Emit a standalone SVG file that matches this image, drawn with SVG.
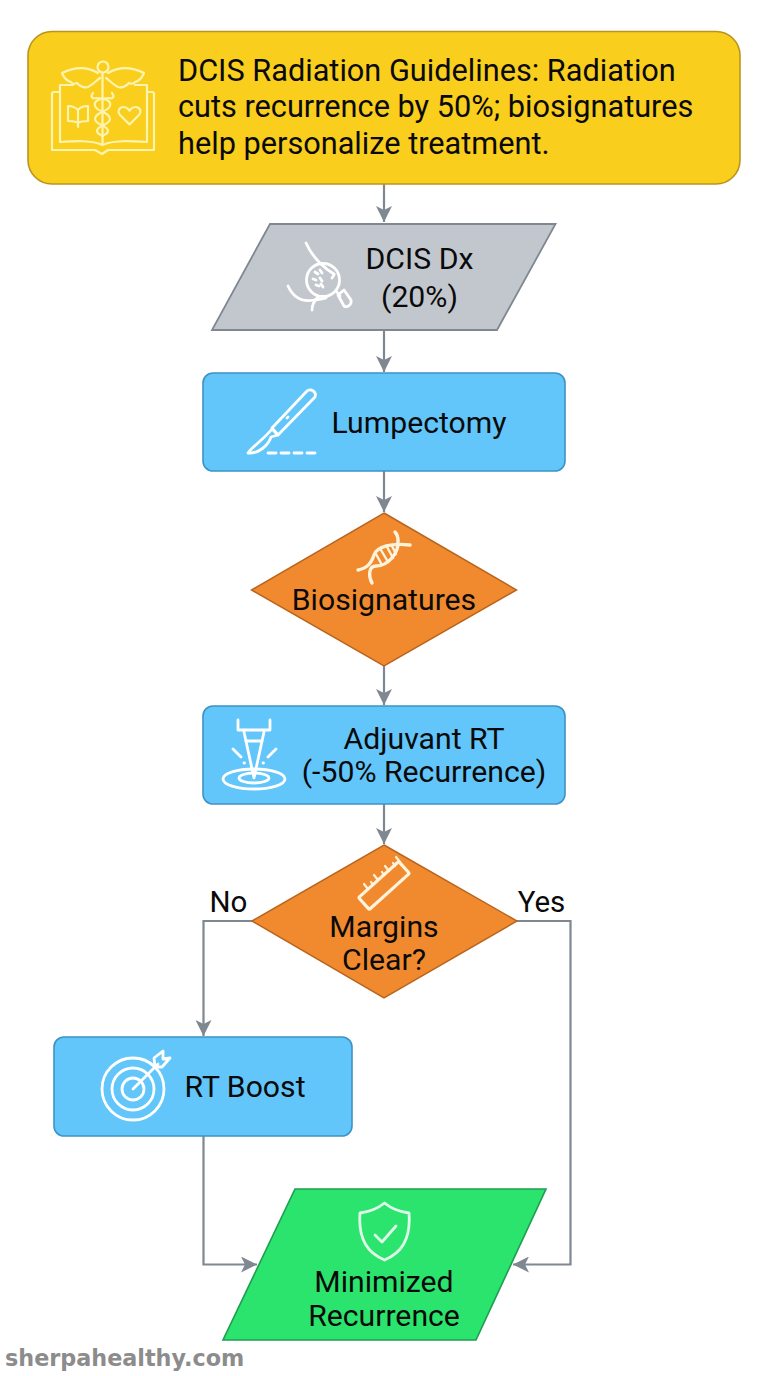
<svg xmlns="http://www.w3.org/2000/svg" width="768" height="1376" viewBox="0 0 768 1376">
<defs>
<marker id="arr" markerUnits="userSpaceOnUse" markerWidth="18" markerHeight="16" refX="16" refY="8" orient="auto"><path d="M0 0 L16 8 L0 16 L4 8 Z" fill="#7f8791"/></marker>
</defs>
<style>
text{font-family:Roboto,"Liberation Sans",sans-serif;fill:#0a0a0a;text-anchor:middle}
.t{font-size:30.700px}
.m{font-size:30.200px}
.conn path{fill:none;stroke:#7f8791;stroke-width:2.2;marker-end:url(#arr)}
.ic *{fill:none;stroke:#fff;stroke-width:2.800;stroke-linecap:round;stroke-linejoin:round}
.soft *{stroke:#fff3b0;stroke-width:2.200}
.blue{fill:#62c6fb;stroke:#3d93c4;stroke-width:1.6}
.org{fill:#f18a2e;stroke:#b8651f;stroke-width:1.5}
.lab{font-size:29.500px}
</style>
<rect width="768" height="1376" fill="#fff"/>
<g id="connectors" class="conn">
<path d="M384 184V222"/>
<path d="M384 330V372"/>
<path d="M384 471V512"/>
<path d="M384 666V705"/>
<path d="M384 804V844"/>
<path d="M252 921H203.500V1036"/>
<path d="M517 921H570.500V1264.500H513"/>
<path d="M203.500 1136V1264.500H257"/>
</g>
<g id="n1">
<rect x="28" y="31.500" width="712" height="152.500" rx="24" fill="#f9ce1d" stroke="#b8961e" stroke-width="1.6"/>
<g class="ic soft">
<path d="M58.500 92H54Q52 92 52 94V150H95L102 154L108 150H154V94Q154 92 152 92H147"/>
<path d="M73 85H60V142C76 141 92 140 102.500 145C113 140 130 141 147 142V85H135"/>
<path d="M102.500 73V145"/>
<circle cx="103" cy="67" r="5.500"/>
<path d="M98 73C88 67 76 66 62 73C64 78 67 81 71 82C72 84 75 84 77 83C80 87 85 88 88 87C92 85 96 81 100 78"/>
<path d="M108 73C118 67 130 66 144 73C142 78 139 81 135 82C134 84 131 84 129 83C126 87 121 88 118 87C114 85 110 81 106 78"/>
<path d="M93 93C90 97 92 99 96 98C103 98 112 100 110 106C108 112 95 112 95 119C95 125 108 125 108 131C108 134 104 135 102 136"/>
<path d="M112 93C115 97 113 99 109 98C102 98 93 100 95 106C97 112 110 112 110 119C110 125 97 125 97 131C97 134 101 135 103 136"/>
<path d="M78 110C74 106 71 106 68 106V121C71 121 75 121 78 123C81 121 85 121 88 121V106C85 106 81 106 78 110ZM78 110V127"/>
<path d="M129.500 124.500L120 115C115 109 124 103 129.500 110.500C135 103 144 109 139 115Z"/>
</g>
<text class="t" x="178" y="81" style="text-anchor:start">DCIS Radiation Guidelines: Radiation</text>
<text class="t" x="178" y="117" style="text-anchor:start">cuts recurrence by 50%; biosignatures</text>
<text class="t" x="178" y="154" style="text-anchor:start">help personalize treatment.</text>
</g>
<g id="n2">
<polygon points="270,224 555.500,224 497,330 212,330" fill="#c2c7cd" stroke="#7f8791" stroke-width="1.8"/>
<g class="ic">
<path d="M306 243C313 258 324 268 334 274"/>
<path d="M288 286C294 299 304 302 314 300C318 300 322 299 326 298"/>
<path d="M312 310C312 304 314 301 318 297"/>
<circle cx="323" cy="280" r="16.500"/>
<path d="M336 291L340 296"/>
<path d="M338 295L344 290L351 300C352 305 347 308 344 306Z"/>
<path d="M315 272l3 2M320 270l2 3M313 279l3 1M320 278l2 3M316 285l3 1M321 284l2 3M332 278l2-3"/>
</g>
<text class="m" x="419.500" y="269">DCIS Dx</text>
<text class="m" x="419.500" y="307">(20%)</text>
</g>
<g id="n3">
<rect x="203" y="373" width="362" height="98" rx="10" class="blue"/>
<g class="ic">
<path d="M272 428L307 391C311 388 317 392 315 397L278 435Z"/>
<path d="M272 429L278 435L271 437C268 446 258 454 248 453C253 446 264 439 272 429Z"/>
<path d="M287 418l1-1"/>
<path d="M268 453H316" stroke-dasharray="8 5"/>
</g>
<text class="m" x="419" y="433">Lumpectomy</text>
</g>
<g id="n4">
<polygon points="384,513 516.500,590 384,666 251.500,590" class="org"/>
<g class="ic">
<path d="M358 570C367 568 371 564 374 555C377 546 392 543 410 545" style="stroke:#fff3dc;stroke-width:3.400px"/>
<path d="M372 583C368 575 369 566 376 566C388 566 399 553 398 541C398 537 397 534 395 532" style="stroke:#fff3dc;stroke-width:3.400px"/>
<path d="M376 554l6 11M381 550l7 12M387 547l6 11M392 546l4 8" style="stroke-width:2.400px;stroke:#fff3dc"/>
</g>
<text class="m" x="384" y="610">Biosignatures</text>
</g>
<g id="n5">
<rect x="203" y="706" width="362" height="98" rx="10" class="blue"/>
<g class="ic">
<path d="M238 720V730H270V720"/>
<path d="M244 732L254 778L264 732"/>
<path d="M246 741H262M233 749L241 757M276 749L268 757"/>
<path d="M244 763h.5M263 763h.5"/>
<ellipse cx="254" cy="779" rx="31" ry="10"/>
<ellipse cx="254" cy="778" rx="15" ry="5"/>
</g>
<text class="m" x="424" y="749">Adjuvant RT</text>
<text class="m" x="424" y="782">(-50% Recurrence)</text>
</g>
<g id="n6">
<polygon points="384,845 517,921 384,998 252,921" class="org"/>
<g class="ic">
<rect x="-27" y="-8" width="54" height="16" rx="1.500" transform="translate(384 885.500) rotate(-42)" style="stroke:#fff3dc;stroke-width:3.200px"/>
<path d="M368 889l-4-5M373 885l-2-3M378 880l-4-5M384 875l-2-3M389 871l-4-5M395 866l-2-3M400 862l-4-5" style="stroke-width:2.200px;stroke:#fff3dc"/>
</g>
<text class="m" x="384" y="937">Margins</text>
<text class="m" x="384" y="970">Clear?</text>
</g>
<g id="n7">
<rect x="54" y="1037" width="298" height="99" rx="10" class="blue"/>
<g class="ic">
<circle cx="133" cy="1089" r="31"/>
<circle cx="133" cy="1089" r="21"/>
<circle cx="133" cy="1089" r="11"/>
<path d="M133 1089L158 1064"/>
<path d="M155 1067L154 1058L163 1051L163 1059L170 1058L162 1067Z"/>
</g>
<text class="m" x="245" y="1097">RT Boost</text>
</g>
<g id="n8">
<polygon points="295,1189 546,1189 476,1340 223,1340" fill="#2ae46d" stroke="#1f9d50" stroke-width="1.6"/>
<g class="ic" style="opacity:.85">
<path d="M384.500 1203C376 1210 368 1212 360 1213C358 1240 368 1253 384.500 1260C401 1253 411 1240 409 1213C401 1212 393 1210 384.500 1203Z"/>
<path d="M375 1235L382 1242L396 1226"/>
</g>
<text class="m" x="384" y="1292">Minimized</text>
<text class="m" x="384" y="1326">Recurrence</text>
</g>
<g id="labels">
<text class="lab" x="228.500" y="912">No</text>
<text class="lab" x="541.500" y="912">Yes</text>
</g>
<text x="5" y="1365.500" style="text-anchor:start;font-family:'DejaVu Sans',sans-serif;font-weight:bold;font-size:22.300px;fill:#8c8c8c">sherpahealthy.com</text>
</svg>
